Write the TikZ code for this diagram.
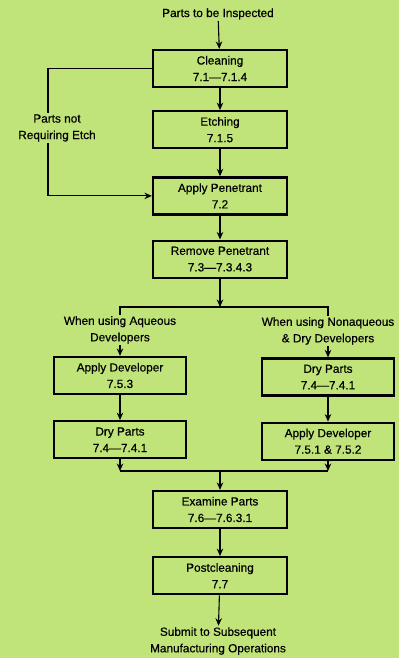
\documentclass[tikz,border=0pt]{standalone}
\usepackage{fontspec}
\setmainfont{Liberation Sans}[FakeBold=0.5]
\usetikzlibrary{positioning,arrows.meta}
\definecolor{bggreen}{RGB}{192,228,122}

\begin{document}
\begin{tikzpicture}[->,>={Stealth[length=7.5pt,width=6.5pt]},x=1pt,y=1pt,line width=1.1pt,
    font=\fontsize{11.8}{16.5}\selectfont,
    box/.style={draw=black,line width=2.2pt,minimum width=134pt,
      minimum height=37pt,align=center,inner sep=2pt},
    sidebox/.style={box,minimum width=132pt},
    lbl/.style={align=center,inner sep=1pt}]
  % background and page size
  \fill[bggreen,-] (0,0) rectangle (399,-658);
  \useasboundingbox (0,0) rectangle (399,-658);

  % main column
  \node[lbl] (start) at (218,-14) {Parts to be Inspected};
  \node[box] (clean) at (220,-68.5) {Cleaning\\7.1---7.1.4};
  \node[box,below=22pt of clean] (etch) {Etching\\7.1.5};
  \node[box,below=27pt of etch] (pen) {Apply Penetrant\\7.2};
  \node[box,below=24pt of pen] (remove) {Remove Penetrant\\7.3---7.3.4.3};
  \node[lbl] (byp) at (57,-128) {Parts not\\Requiring Etch};

  % two branches
  \coordinate (split) at (220,-307);
  \node[lbl] (aqlbl) at (120,-330) {When using Aqueous\\Developers};
  \node[lbl] (nonlbl) at (328,-331) {When using Nonaqueous\\\& Dry Developers};
  \node[sidebox] (devL) at (120,-375.5) {Apply Developer\\7.5.3};
  \node[sidebox,below=25pt of devL] (dryL) {Dry Parts\\7.4---7.4.1};
  \node[sidebox] (dryR) at (328,-377) {Dry Parts\\7.4---7.4.1};
  \node[sidebox,below=25pt of dryR] (devR) {Apply Developer\\7.5.1 \& 7.5.2};

  % rejoin
  \coordinate (join) at (220,-471);
  \node[box] (exam) at (220,-509.5) {Examine Parts\\7.6---7.6.3.1};
  \node[box,below=27pt of exam] (post) {Postcleaning\\7.7};
  \node[lbl] (submit) at (218,-641) {Submit to Subsequent\\Manufacturing Operations};

  % connectors
  \draw (start) -- (clean);
  \draw (clean) -- (etch);
  \draw (etch) -- (pen);
  \draw (pen) -- (remove);
  \draw[-] (clean.west) -| ([xshift=-9pt]byp.north);
  \draw ([xshift=-9pt]byp.south) |- (pen.west);
  \draw (remove) -- (split);
  \draw[-] (aqlbl.north) |- (split) -| (nonlbl.north);
  \draw (aqlbl) -- (devL);
  \draw (nonlbl) -- (dryR);
  \draw (devL) -- (dryL);
  \draw (dryR) -- (devR);
  \draw (dryL.south) -- (dryL.south |- join);
  \draw (devR.south) -- (devR.south |- join);
  \draw[-] (dryL.south |- join) -- (devR.south |- join);
  \draw (join) -- (exam);
  \draw (exam) -- (post);
  \draw (post) -- (submit);
\end{tikzpicture}
\end{document}
